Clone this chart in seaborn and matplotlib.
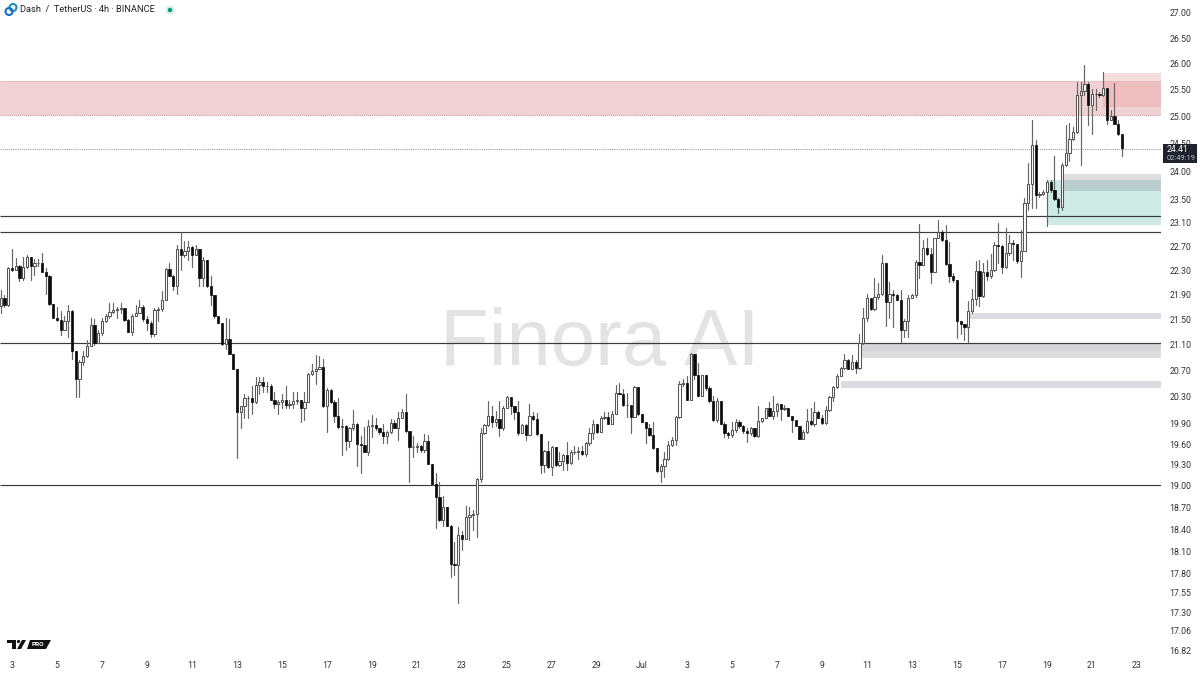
import matplotlib
matplotlib.use("Agg")
import matplotlib.pyplot as plt
from matplotlib.patches import Polygon, Circle, Rectangle
from matplotlib.transforms import Affine2D
from matplotlib.ticker import FixedLocator, FixedFormatter, NullLocator
import numpy as np
import pandas as pd
import seaborn as sns

first_open = 21.72
closes = [
21.84,21.74,22.34,22.31,22.38,22.17,22.35,22.52,22.37,22.42,
22.42,22.28,22.21,21.75,21.53,21.50,21.34,21.48,21.63,21.00,
20.57,20.84,20.93,21.09,21.41,21.13,21.29,21.48,21.55,21.62,
21.65,21.67,21.68,21.49,21.31,21.56,21.61,21.71,21.51,21.45,
21.27,21.65,21.67,21.82,22.32,22.21,22.04,22.65,22.56,22.63,
22.69,22.56,22.65,22.17,22.47,22.04,21.89,21.55,21.45,21.12,
21.20,20.96,20.73,20.08,20.16,20.29,20.28,20.22,20.48,20.52,
20.47,20.46,20.26,20.19,20.22,20.25,20.18,20.20,20.24,20.25,
20.14,20.23,20.65,20.70,20.73,20.76,20.17,20.41,20.22,20.02,
19.85,19.87,19.64,19.84,19.89,19.60,19.59,19.49,19.86,19.88,
19.83,19.78,19.72,19.78,19.91,19.84,19.99,20.08,19.79,19.56,
19.56,19.58,19.51,19.65,19.32,19.03,18.84,18.52,18.70,18.45,
17.93,17.92,18.32,18.27,18.57,18.59,18.61,19.10,19.77,19.88,
20.02,19.92,19.97,19.83,20.14,20.30,20.16,20.08,19.77,19.88,
19.74,20.01,19.97,19.75,19.30,19.50,19.27,19.56,19.30,19.35,
19.44,19.33,19.49,19.49,19.50,19.46,19.61,19.77,19.90,19.78,
19.99,20.00,19.90,20.05,20.36,20.35,20.18,20.18,20.00,20.45,
20.04,19.93,19.84,19.73,19.54,19.21,19.29,19.39,19.59,19.66,
20.00,20.50,20.51,20.26,20.96,20.64,20.32,20.63,20.43,20.24,
19.95,20.24,19.90,19.77,19.73,19.80,19.92,19.86,19.79,19.76,
19.84,19.72,19.94,19.98,20.13,20.02,20.09,20.20,20.12,20.13,
20.02,19.96,19.87,19.68,19.78,19.94,19.90,20.08,19.99,19.91,
20.11,20.30,20.45,20.62,20.74,20.87,20.73,20.84,20.74,21.13,
21.53,21.85,21.67,21.87,21.91,22.42,21.79,21.91,21.89,21.82,
21.33,21.48,21.85,21.89,22.44,22.39,22.67,22.57,22.28,22.84,
22.95,22.81,22.41,22.20,22.14,21.48,21.43,21.38,21.64,21.83,
22.29,21.88,22.28,22.20,22.30,22.73,22.71,22.35,22.59,22.76,
22.75,22.45,22.63,23.44,23.78,24.48,23.59,23.60,23.63,23.82,
23.67,23.51,23.38,24.12,24.33,24.58,24.71,25.40,25.48,25.62,
25.22,25.43,25.42,25.41,25.53,24.94,25.02,24.87,24.68,24.42,
]
highs = [
21.97,21.90,22.36,22.66,22.51,22.39,22.53,22.56,22.53,22.49,
22.49,22.59,22.34,22.22,21.75,21.71,21.64,21.56,21.74,21.66,
21.01,20.86,21.01,21.17,21.53,21.51,21.33,21.52,21.59,21.76,
21.77,21.70,21.77,21.67,21.51,21.59,21.74,21.81,21.74,21.55,
21.47,21.69,21.70,21.96,22.34,22.43,22.23,22.73,22.94,22.80,
22.80,22.70,22.73,22.66,22.52,22.48,22.20,21.89,21.53,21.45,
21.53,21.51,20.96,20.73,20.17,20.34,20.32,20.46,20.60,20.61,
20.60,20.52,20.49,20.37,20.26,20.34,20.47,20.26,20.37,20.37,
20.26,20.37,20.66,20.80,20.94,20.92,20.88,20.44,20.42,20.26,
20.29,19.97,19.88,19.85,20.10,19.91,19.72,19.85,19.96,20.03,
19.99,19.84,19.90,19.79,19.97,19.95,20.07,20.12,20.34,19.79,
19.72,19.61,19.59,19.75,19.73,19.32,19.18,19.05,18.86,18.70,
18.46,18.23,18.43,18.38,18.72,18.70,18.67,19.12,19.83,19.90,
20.24,20.16,20.09,20.24,20.16,20.32,20.30,20.16,20.24,19.90,
19.90,20.19,20.08,20.06,19.75,19.51,19.65,19.58,19.56,19.49,
19.46,19.63,19.51,19.58,19.56,19.58,19.63,19.83,19.95,19.90,
20.01,20.08,20.08,20.09,20.48,20.51,20.42,20.36,20.16,20.47,
20.45,20.04,19.93,19.90,19.92,19.54,19.32,19.49,19.65,19.70,
20.01,20.54,20.57,20.62,20.98,20.96,20.82,20.64,20.64,20.47,
20.31,20.29,20.24,19.92,19.78,19.92,19.97,19.95,19.88,19.83,
19.85,19.84,20.17,19.99,20.14,20.22,20.31,20.21,20.19,20.18,
20.14,20.02,19.94,19.87,19.80,20.12,20.13,20.22,20.09,20.03,
20.16,20.31,20.47,20.65,20.75,20.96,20.88,20.94,20.86,21.27,
21.69,21.91,21.83,22.17,22.09,22.56,22.43,22.11,21.97,21.91,
21.97,21.51,21.89,21.91,22.48,23.08,22.81,22.84,22.67,22.84,
23.15,22.98,23.07,22.77,22.25,22.14,21.48,21.43,21.80,21.99,
22.45,22.48,22.42,22.48,22.57,22.78,23.10,22.73,23.02,22.90,
22.81,22.71,22.98,23.53,24.15,24.94,24.57,23.64,23.67,23.85,
23.85,24.27,23.53,24.15,24.85,24.88,24.81,25.66,25.66,25.98,
25.66,25.51,25.51,25.46,25.85,25.51,25.13,25.64,24.94,24.66,
]
lows = [
21.61,21.70,21.72,22.29,22.30,22.13,22.15,22.34,22.14,22.23,
22.37,22.27,21.91,21.74,21.52,21.48,21.25,21.33,21.22,20.88,
20.30,20.30,20.78,20.91,21.08,21.10,21.13,21.26,21.46,21.53,
21.60,21.52,21.61,21.48,21.30,21.25,21.55,21.60,21.48,21.33,
21.22,21.24,21.48,21.64,21.81,22.20,21.97,21.91,22.31,22.53,
22.47,22.35,22.56,22.04,22.04,22.03,21.73,21.53,21.44,21.10,
21.04,20.95,20.72,19.40,19.84,19.98,19.99,20.04,20.21,20.34,
20.37,20.37,20.25,20.14,20.04,20.14,20.14,20.13,20.14,20.19,
19.93,19.96,20.22,20.63,20.49,20.72,20.15,19.78,20.21,19.93,
19.84,19.44,19.51,19.56,19.80,19.28,19.19,19.48,19.44,19.71,
19.80,19.75,19.61,19.61,19.77,19.83,19.66,19.99,19.78,19.05,
19.41,19.49,19.49,19.48,19.31,19.02,18.41,18.51,18.45,18.44,
17.76,17.78,17.42,18.12,18.27,18.25,18.39,18.29,19.05,19.75,
19.87,19.85,19.86,19.72,19.80,20.13,20.04,19.97,19.73,19.77,
19.66,19.73,19.96,19.74,19.19,19.20,19.26,19.15,19.28,19.29,
19.22,19.22,19.31,19.46,19.39,19.44,19.43,19.59,19.68,19.77,
19.78,19.97,19.89,19.90,20.04,20.34,20.16,20.00,19.76,20.00,
20.03,19.92,19.61,19.72,19.53,19.20,19.05,19.13,19.37,19.58,
19.59,19.99,20.47,20.25,20.26,20.57,20.31,20.31,20.41,20.22,
19.94,19.92,19.90,19.71,19.69,19.71,19.78,19.83,19.77,19.63,
19.73,19.71,19.71,19.93,19.98,20.01,19.97,20.02,19.96,20.11,
20.01,19.78,19.86,19.67,19.67,19.77,19.88,19.87,19.98,19.90,
19.90,20.09,20.24,20.44,20.63,20.73,20.72,20.73,20.66,20.73,
21.12,21.48,21.66,21.66,21.83,21.89,21.40,21.53,21.39,21.81,
21.14,21.22,21.22,21.85,21.87,22.17,22.39,22.56,22.10,22.28,
22.84,22.80,22.39,22.11,22.11,21.21,21.27,21.17,21.15,21.61,
21.73,21.72,21.87,22.15,22.18,22.29,22.42,22.25,22.34,22.56,
22.48,22.42,22.19,22.62,23.33,23.36,23.36,23.55,23.58,23.05,
23.64,23.50,23.28,23.33,24.10,24.18,24.57,24.70,24.12,25.40,
24.85,24.68,25.13,25.37,25.38,24.87,24.93,24.86,24.66,24.27,
]
price_ticks = [27.00,26.50,26.00,25.50,25.00,24.50,24.00,23.50,23.10,22.70,22.30,21.90,21.50,21.10,
               20.70,20.30,19.90,19.60,19.30,19.00,18.70,18.40,18.10,17.80,17.55,17.30,17.06,16.82]
day_labels = ["3","5","7","9","11","13","15","17","19","21","23","25","27","29","Jul",
              "3","5","7","9","11","13","15","17","19","21","23"]
black_levels = [23.22,22.95,21.13,19.02]
last_price = 24.41
red_zone = (25.03,25.67)
red_overlay = (25.18,25.83)
green_zone = (23.06,23.85)
grey_zone = (23.66,23.95)
purple_zones = [(21.51,21.60),(20.44,20.54)]
purple_starts = [258,224]
grey_band = (20.90,21.12)
grey_band_mid = 21.01

W,H = 1200,675
sns.set_theme(style="white")
plt.rcParams["font.family"] = ["Roboto","DejaVu Sans"]
fig = plt.figure(figsize=(12,6.75),dpi=100,facecolor="white")
AX_R, AX_B = 1161, 660
ax = fig.add_axes([0,1-AX_B/H,AX_R/W,AX_B/H])
k = 1346.0
ax.set_yscale("log")
ax.set_ylim(27*np.exp(-(AX_B-13)/k),27*np.exp(13/k))
ax.set_xlim(-0.7/3.75,(AX_R-0.7)/3.75)
xr = ax.get_xlim()[1]
xl = ax.get_xlim()[0]

opens = [first_open]+closes[:-1]
idx = np.arange(len(closes))
df = pd.DataFrame({"i":np.repeat(idx,2),"price":np.column_stack([lows,highs]).ravel()})

def band(start,lo,hi,color,alpha=1.0,z=1):
    ax.fill_between([start,xr],[lo,lo],[hi,hi],color=color,alpha=alpha,lw=0,zorder=z)

band(xl,*red_zone,"#f1d2d4")
band(294,*red_overlay,"#e8888e",alpha=0.28,z=1.2)
ax.hlines(red_zone[0],xl,xr,colors="#c77a80",lw=0.7,linestyles=(0,(1,1)),zorder=1.5)
ax.hlines(red_zone[1],xl,xr,colors="#e2b6ba",lw=0.5,zorder=1.5)
band(279,*green_zone,"#cdeae4")
band(283,*grey_zone,"#8f8f9a",alpha=0.30,z=1.2)
for s,(lo,hi) in zip(purple_starts,purple_zones):
    band(s,lo,hi,"#dcdbe2")
band(229,grey_band[0],grey_band_mid,"#dddde0")
band(229,grey_band_mid,grey_band[1],"#d6d6d9")

ax.hlines(black_levels,xl,xr,colors="#3a3a3a",lw=0.85,zorder=2)
ax.hlines(last_price,xl,xr,colors="#8a8f95",lw=0.7,linestyles=(0,(1,1.2)),zorder=2)

sns.lineplot(data=df,x="i",y="price",units="i",estimator=None,color="#666666",lw=0.85,
             ax=ax,legend=False,zorder=3)
o,c = np.array(opens),np.array(closes)
up = c>=o
ax.bar(idx[up],np.abs(c-o)[up],bottom=np.minimum(o,c)[up],width=0.62,color="white",
       edgecolor="#555555",lw=0.75,zorder=4)
ax.bar(idx[~up],np.abs(c-o)[~up],bottom=np.minimum(o,c)[~up],width=0.6,color="#0a0a0a",
       edgecolor="#0a0a0a",lw=0.5,zorder=4)

ax.text(600/AX_R,1-365/AX_B,"Finora AI",transform=ax.transAxes,ha="center",va="baseline",
        fontsize=57.5,color="#e3e3e3",family="Liberation Sans",zorder=0.5)

for s in ax.spines.values():
    s.set_visible(False)
ax.set_xlabel("");ax.set_ylabel("")
ax.yaxis.tick_right()
ax.yaxis.set_major_locator(FixedLocator(price_ticks))
ax.yaxis.set_major_formatter(FixedFormatter([f"{p:.2f}" for p in price_ticks]))
ax.yaxis.set_minor_locator(NullLocator())
ax.tick_params(axis="y",length=0,pad=6,labelsize=6.3,labelcolor="#333333")
ax.set_xticks(3+12*np.arange(len(day_labels)))
ax.set_xticklabels(day_labels)
ax.tick_params(axis="x",length=0,pad=1,labelsize=6.3,labelcolor="#333333")
for l in ax.get_xticklabels():
    l.set_clip_on(False)

# pixel-space decorations
T = Affine2D().scale(1,-1).translate(0,H)
def add(p):
    p.set_transform(T);fig.add_artist(p)
def t(x,y,s,**kw):
    fig.text(x/W,1-y/H,s,**kw)
# price label
add(Rectangle((1163,144),34,19,fc="#1e222d",ec="none",zorder=10))
t(1167,149.5,"24.41",color="white",fontsize=6.3,va="center",zorder=11)
t(1167,158,"02:49:19",color="#b8bcc4",fontsize=5.4,va="center",zorder=11)
# header
add(Circle((13,7.5),3.5,fc="none",ec="#1c8fb8",lw=1.5))
add(Circle((9,11.5),3.5,fc="none",ec="#1c6fc4",lw=1.5))
t(19.5,10,"Dash  /  TetherUS · 4h · BINANCE",color="#222222",fontsize=6.7,va="center")
add(Circle((170,10),4.5,fc="#d6efe9",ec="none"))
add(Circle((170,10),2.2,fc="#089981",ec="none"))
# TradingView mark
add(Polygon([(7,640),(16,640),(16,649),(12,649),(12,643),(7,643)],fc="#111111",ec="none"))
add(Circle((18.5,641.5),1.6,fc="#111111",ec="none"))
add(Polygon([(17,649),(22,640),(26,640),(21,649)],fc="#111111",ec="none"))
add(Polygon([(30,640),(51,640),(46,649),(27,649)],fc="#111111",ec="none"))
t(38,644.7,"PRO",color="white",fontsize=4.6,fontweight="bold",ha="center",va="center",zorder=11)

fig.savefig("out.png",dpi=100,facecolor="white")
